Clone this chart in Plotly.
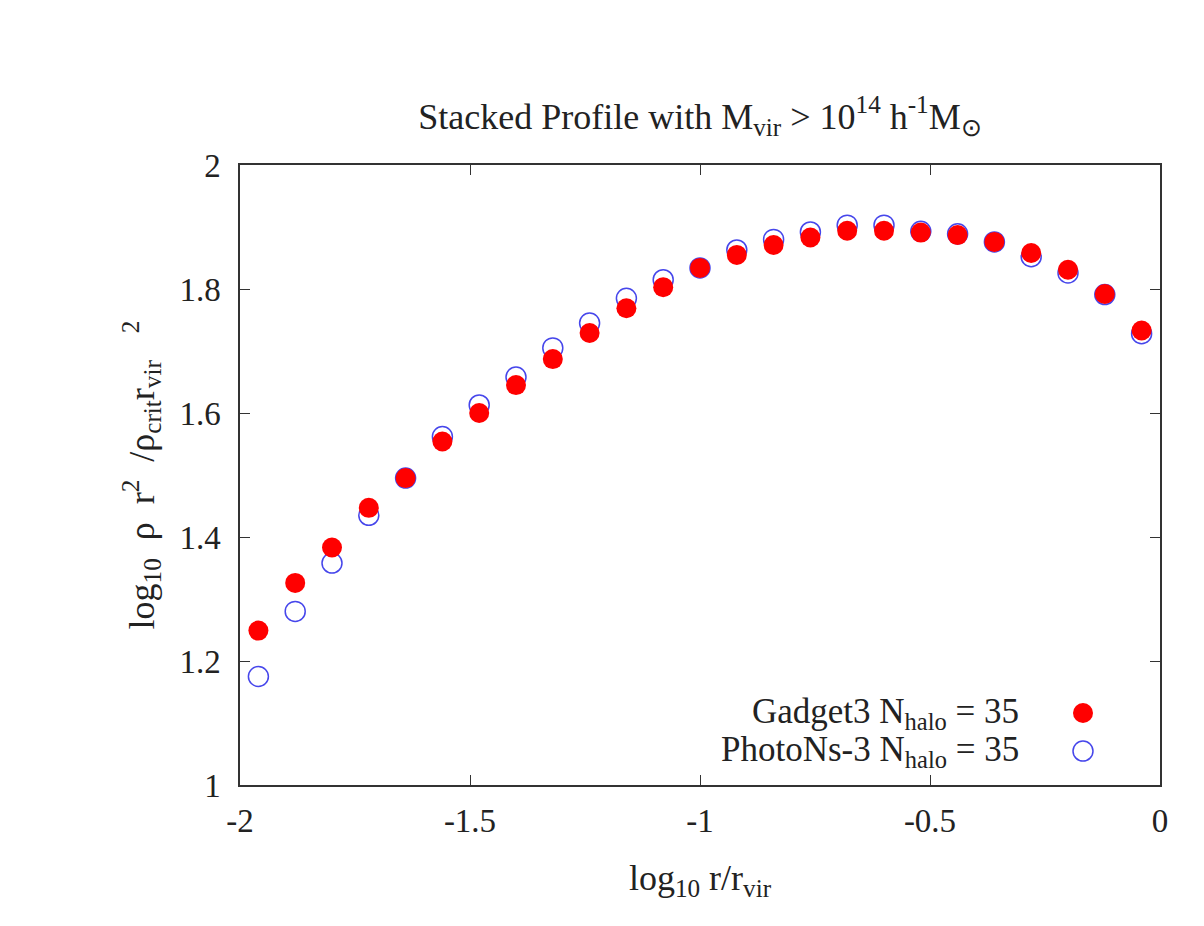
import plotly.graph_objects as go

log_r = [-1.96, -1.88, -1.80, -1.72, -1.64, -1.56, -1.48, -1.40, -1.32, -1.24,
         -1.16, -1.08, -1.00, -0.92, -0.84, -0.76, -0.68, -0.60, -0.52, -0.44,
         -0.36, -0.28, -0.20, -0.12, -0.04]
gadget3 = [1.249, 1.326, 1.383, 1.447, 1.495, 1.554, 1.600, 1.645, 1.687, 1.729,
           1.769, 1.803, 1.834, 1.855, 1.871, 1.883, 1.894, 1.894, 1.891, 1.887,
           1.876, 1.858, 1.831, 1.792, 1.733]
photons3 = [1.175, 1.280, 1.358, 1.435, 1.495, 1.562, 1.613, 1.658, 1.705, 1.745,
            1.785, 1.815, 1.834, 1.863, 1.880, 1.892, 1.903, 1.903, 1.893, 1.889,
            1.876, 1.852, 1.826, 1.791, 1.728]
x_ticks = [-2, -1.5, -1, -0.5, 0]
x_tick_labels = ["-2", "-1.5", "-1", "-0.5", "0"]
y_ticks = [1, 1.2, 1.4, 1.6, 1.8, 2]
y_tick_labels = ["1", "1.2", "1.4", "1.6", "1.8", "2"]
legend_labels = ["Gadget3 N<sub>halo</sub> = 35", "PhotoNs-3 N<sub>halo</sub> = 35"]

FONT = "Liberation Serif"
FS = 33
RED = "#ff0000"
BLUE = "rgb(70,70,235)"
NB = "\u00a0"

fig = go.Figure()
fig.add_trace(go.Scatter(
    x=log_r, y=photons3, mode="markers", name=legend_labels[1],
    marker=dict(symbol="circle-open", size=20, color=BLUE, line=dict(width=1.5, color=BLUE)),
))
fig.add_trace(go.Scatter(
    x=log_r, y=gadget3, mode="markers", name=legend_labels[0],
    marker=dict(symbol="circle", size=20, color=RED, line=dict(width=0)),
))

axis_common = dict(
    showgrid=False, zeroline=False, showline=True, linecolor="#333", linewidth=1.5,
    mirror="allticks", ticks="inside", ticklen=10, tickcolor="#333", tickwidth=1,
    tickfont=dict(family=FONT, size=FS, color="#222"),
)
fig.update_xaxes(range=[-2, 0], tickvals=x_ticks, ticktext=x_tick_labels,
                 ticklabelstandoff=6,
                 title=dict(text="log<sub>10</sub> r/r<sub>vir</sub>",
                            font=dict(family=FONT, size=36, color="#222"), standoff=26),
                 **axis_common)
ytitle = ("log<sub>10</sub>" + NB + " ρ" + NB + " r<sup>2</sup>" + NB + " /ρ<sub>crit</sub>"
          + "r<sub>vir</sub>" + NB * 3 + "<sup>2</sup>")
fig.update_yaxes(range=[1, 2], tickvals=y_ticks, ticktext=y_tick_labels,
                 ticklabelstandoff=11,
                 title=dict(text=ytitle,
                            font=dict(family=FONT, size=36, color="#222"), standoff=14),
                 **axis_common)

# legend (gnuplot style: text right-aligned, key on the right)
legend_rows = [(0.1161, RED, True), (0.0548, BLUE, False)]
for (py, col, filled), label in zip(legend_rows, legend_labels):
    fig.add_annotation(x=0.849, y=py, xref="paper", yref="paper", text=label,
                       showarrow=False, xanchor="right", yanchor="middle",
                       font=dict(family=FONT, size=35, color="#222"))
    fig.add_shape(type="circle", xref="paper", yref="paper",
                  xsizemode="pixel", ysizemode="pixel",
                  xanchor=0.9163, yanchor=py, x0=-10, x1=10, y0=-10, y1=10,
                  line=dict(color=col, width=0 if filled else 1.5),
                  fillcolor=col if filled else "rgba(0,0,0,0)")

fig.update_layout(
    width=1204, height=926,
    margin=dict(l=232, r=52, t=157, b=149),
    paper_bgcolor="white", plot_bgcolor="white",
    showlegend=False,
    title=dict(text="Stacked Profile with M<sub>vir</sub> > 10<sup>14</sup> h<sup>-1</sup>M<sub>⊙</sub>",
               x=0.5, xref="paper", xanchor="center", y=0.8834, yref="container", yanchor="middle",
               font=dict(family=FONT, size=36, color="#222")),
)

fig.write_html("out.html")
